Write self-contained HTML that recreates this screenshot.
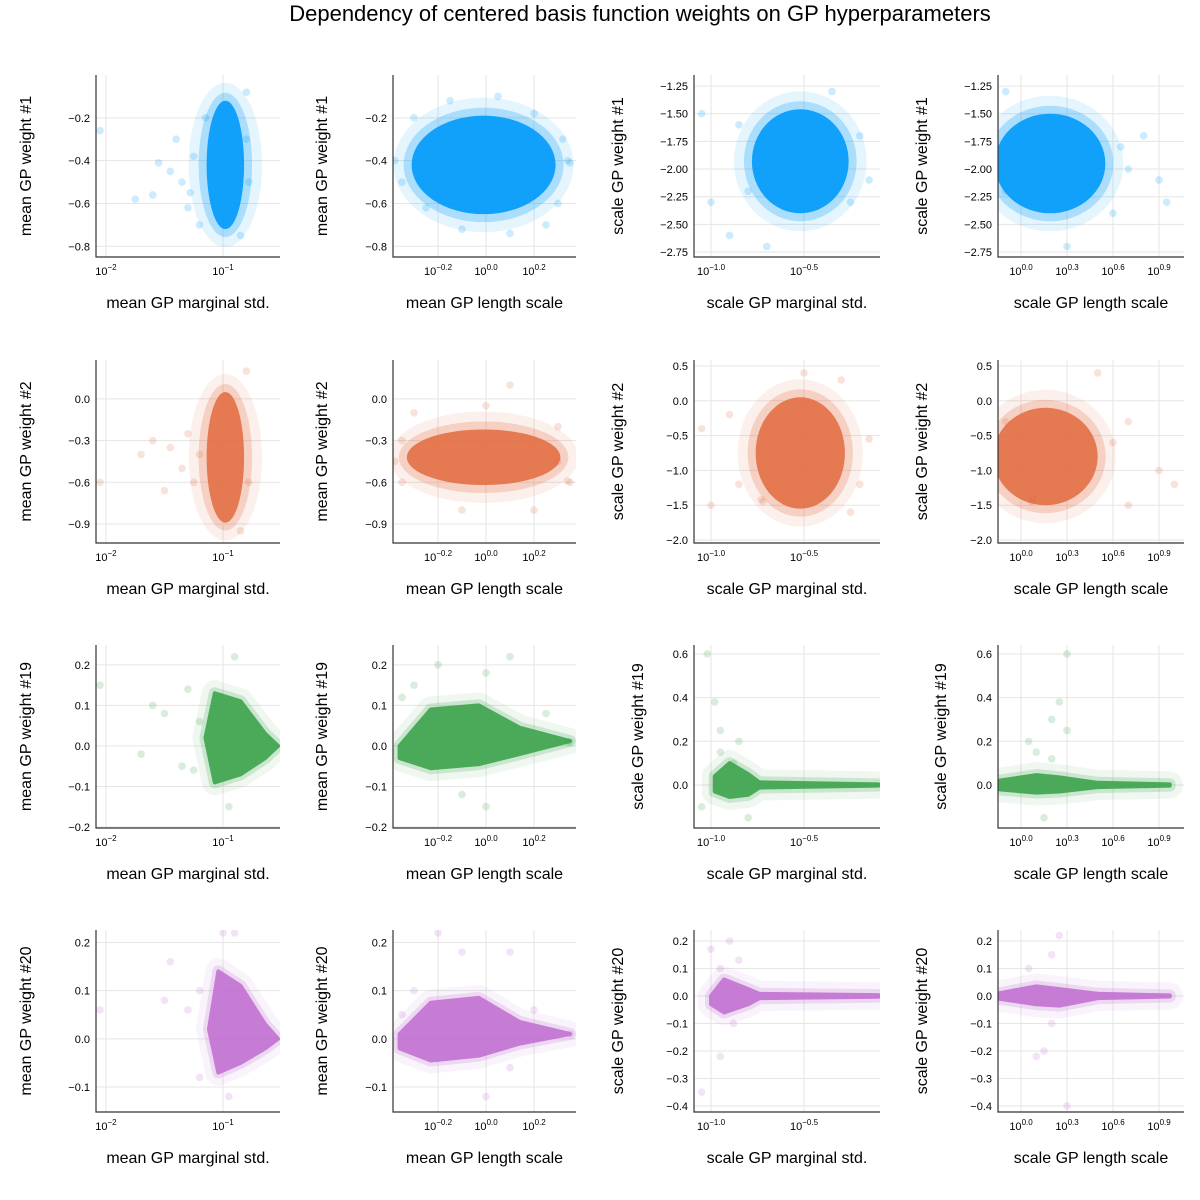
<!DOCTYPE html>
<html><head><meta charset="utf-8"><style>
html,body{margin:0;padding:0;background:#fff;}
svg{display:block;font-family:"Liberation Sans","DejaVu Sans",sans-serif;}
</style></head><body>
<svg id="chart" width="1200" height="1200" viewBox="0 0 1200 1200" xmlns="http://www.w3.org/2000/svg">
<rect width="1200" height="1200" fill="#fff"/>
<text x="640" y="21" text-anchor="middle" font-size="22" fill="#000">Dependency of centered basis function weights on GP hyperparameters</text>
</svg>
<script>
// ---- layout ----
const colLeft=[96,393,694,998], colRight=[280,576,880,1184];
const rowTop=[75,360,645,930], rowBottom=[257,543,828,1112];
const colors=["#009AFA","#E26F46","#3DA44D","#C271D2"];
const rowNames=["#1","#2","#19","#20"];
const colXLabels=["mean GP marginal std.","mean GP length scale","scale GP marginal std.","scale GP length scale"];
const colYPrefix=["mean","mean","scale","scale"];
// x domains (log10 units)
const xDomains=[[-2.085,-0.513],[-0.3875,0.375],[-1.0914,-0.0914],[-0.15,1.063]];
const xTickVals=[[-2,-1],[-0.2,0,0.2],[-1,-0.5],[0,0.3,0.6,0.9]];
const xTickText=[["−2","−1"],["−0.2","0.0","0.2"],["−1.0","−0.5"],["0.0","0.3","0.6","0.9"]];
// y domains: [row][pair] pair0 = cols 1-2, pair1 = cols 3-4
const yDomains=[[[-0.85,0.0],[-2.795,-1.15]],[[-1.037,0.28],[-2.043,0.586]],[[-0.2025,0.249],[-0.197,0.641]],[[-0.152,0.226],[-0.422,0.24]]];
const yTicks=[[[-0.8,-0.6,-0.4,-0.2],[-2.75,-2.5,-2.25,-2.0,-1.75,-1.5,-1.25]],[[-0.9,-0.6,-0.3,0.0],[-2.0,-1.5,-1.0,-0.5,0.0,0.5]],[[-0.2,-0.1,0.0,0.1,0.2],[0.0,0.2,0.4,0.6]],[[-0.1,0.0,0.1,0.2],[-0.4,-0.3,-0.2,-0.1,0.0,0.1,0.2]]];
const yTickDigits=[[1,2],[1,1],[1,1],[1,1]];
const yLabelX=[[25,321,617,921],[25,321,617,921],[25,321,637,940],[25,321,617,921]];

// ---- data: dense cloud shapes (x in log10, y in data units) ----
const coreShapes=[
 [{e:[-0.98,-0.42,0.16,0.3]},{e:[-0.01,-0.42,0.3,0.23]},{e:[-0.52,-1.93,0.26,0.47]},{e:[0.19,-1.95,0.36,0.45]}],
 [{e:[-0.98,-0.42,0.16,0.47]},{e:[-0.01,-0.42,0.32,0.2]},{e:[-0.52,-0.75,0.24,0.8]},{e:[0.16,-0.8,0.34,0.7]}],
 [{p:[[-1.15,0.02],[-1.07,0.13],[-0.85,0.11],[-0.64,0.03],[-0.53,0.0],[-0.64,-0.03],[-0.85,-0.07],[-1.07,-0.09]]},
  {p:[[-0.36,0.0],[-0.23,0.09],[-0.03,0.1],[0.14,0.045],[0.35,0.012],[0.14,-0.02],[-0.03,-0.045],[-0.23,-0.055],[-0.36,-0.03]]},
  {p:[[-0.98,0.04],[-0.9,0.1],[-0.8,0.05],[-0.74,0.012],[-0.1,0.003],[-0.1,-0.003],[-0.74,-0.012],[-0.8,-0.045],[-0.9,-0.055],[-0.98,-0.03]]},
  {p:[[-0.14,0.02],[0.1,0.045],[0.25,0.035],[0.5,0.01],[0.97,0.003],[0.97,-0.003],[0.5,-0.01],[0.25,-0.03],[0.1,-0.035],[-0.14,-0.02]]}],
 [{p:[[-1.12,0.02],[-1.04,0.14],[-0.85,0.11],[-0.64,0.03],[-0.53,0.0],[-0.64,-0.02],[-0.85,-0.05],[-1.04,-0.07]]},
  {p:[[-0.36,0.01],[-0.23,0.075],[-0.03,0.085],[0.14,0.035],[0.35,0.01],[0.14,-0.01],[-0.03,-0.035],[-0.23,-0.045],[-0.36,-0.02]]},
  {p:[[-1.0,0.0],[-0.93,0.06],[-0.8,0.025],[-0.74,0.008],[-0.1,0.003],[-0.1,-0.003],[-0.74,-0.008],[-0.8,-0.03],[-0.93,-0.06],[-1.0,-0.03]]},
  {p:[[-0.14,0.01],[0.1,0.035],[0.25,0.025],[0.5,0.008],[0.97,0.002],[0.97,-0.002],[0.5,-0.008],[0.25,-0.035],[0.1,-0.03],[-0.14,-0.01]]}]
];
// scattered outliers [x,y]
const outliers=[
 [[[-2.05,-0.26],[-1.55,-0.41],[-1.6,-0.56],[-1.35,-0.5],[-1.75,-0.58],[-1.3,-0.62],[-1.2,-0.7],[-1.4,-0.3],[-0.8,-0.08],[-0.85,-0.75],[-1.45,-0.45],[-1.25,-0.38],[-1.15,-0.2],[-1.28,-0.55],[-0.78,-0.5],[-0.8,-0.3]],
  [[-0.38,-0.4],[-0.3,-0.2],[0.3,-0.6],[0.2,-0.18],[-0.1,-0.72],[0.35,-0.41],[0.34,-0.4],[-0.25,-0.62],[0.25,-0.7],[-0.35,-0.5],[0.32,-0.3],[-0.15,-0.12],[0.05,-0.1],[0.1,-0.74]],
  [[-1.05,-1.5],[-1.0,-2.3],[-0.9,-2.6],[-0.2,-1.7],[-0.15,-2.1],[-0.35,-1.3],[-0.7,-2.7],[-0.85,-1.6],[-0.25,-2.3],[-0.8,-2.2]],
  [[-0.1,-1.3],[0.8,-1.7],[0.9,-2.1],[0.95,-2.3],[0.6,-2.4],[0.3,-2.7],[0.7,-2.0],[0.65,-1.8],[-0.1,-2.2]]],
 [[[-2.05,-0.6],[-1.6,-0.3],[-1.5,-0.66],[-1.35,-0.5],[-1.7,-0.4],[-1.3,-0.25],[-0.8,0.2],[-0.85,-0.95],[-1.2,-0.4],[-1.25,-0.6],[-1.45,-0.35],[-0.78,-0.6]],
  [[-0.38,-0.45],[0.35,-0.6],[0.34,-0.59],[0.3,-0.2],[0.2,-0.8],[-0.3,-0.1],[0.1,0.1],[-0.35,-0.3],[-0.35,-0.6],[0.3,-0.45],[-0.1,-0.8],[0.0,-0.05]],
  [[-1.05,-0.4],[-1.0,-1.5],[-0.15,-0.55],[-0.3,0.3],[-0.73,-1.42],[-0.72,-1.45],[-0.2,-1.2],[-0.9,-0.2],[-0.85,-1.2],[-0.25,-1.6],[-0.5,0.4]],
  [[0.08,-1.4],[0.07,-1.45],[0.7,-0.3],[0.9,-1.0],[1.0,-1.2],[0.5,0.4],[0.7,-1.5],[-0.1,-0.3],[0.6,-0.6]]],
 [[[-2.05,0.15],[-1.6,0.1],[-1.5,0.08],[-1.35,-0.05],[-1.7,-0.02],[-0.9,0.22],[-0.95,-0.15],[-1.3,0.14],[-1.2,0.06],[-1.25,-0.06]],
  [[-0.2,0.2],[0.0,-0.15],[0.1,0.22],[-0.35,0.12],[0.25,0.08],[0.35,0.01],[0.34,0.01],[-0.3,0.15],[0.0,0.18],[-0.1,-0.12]],
  [[-1.02,0.6],[-0.98,0.38],[-1.05,-0.1],[-0.95,0.25],[-0.85,0.2],[-0.95,0.15],[-0.8,-0.15],[-0.88,0.1]],
  [[0.1,0.15],[0.25,0.38],[0.2,0.3],[0.15,-0.15],[0.3,0.6],[0.05,0.2],[0.2,0.12],[0.3,0.25]]],
 [[[-2.05,0.06],[-1.45,0.16],[-1.3,0.06],[-1.2,-0.08],[-0.9,0.22],[-1.0,0.22],[-0.95,-0.12],[-1.5,0.08],[-1.2,0.1]],
  [[-0.2,0.22],[0.0,-0.12],[0.1,0.18],[-0.35,0.05],[0.2,0.06],[0.35,0.01],[-0.1,0.18],[-0.3,0.1],[0.1,-0.06]],
  [[-1.05,-0.35],[-1.0,0.17],[-0.9,0.2],[-0.95,-0.22],[-0.88,-0.1],[-0.85,0.13],[-0.95,0.1]],
  [[0.1,-0.22],[0.25,0.22],[0.2,0.15],[0.3,-0.4],[0.15,-0.2],[0.05,0.1],[0.2,-0.1]]]
];

const svg=document.getElementById('chart');
const NS="http://www.w3.org/2000/svg";
function mk(tag,attrs,parent){const el=document.createElementNS(NS,tag);for(const k in attrs)el.setAttribute(k,attrs[k]);(parent||svg).appendChild(el);return el;}
function fmt(v,d){const s=Math.abs(v).toFixed(d);return (v<0&&Math.abs(v)>1e-9?"−":"")+s;}

for(let r=0;r<4;r++){
 for(let c=0;c<4;c++){
  const L=colLeft[c],R=colRight[c],T=rowTop[r],B=rowBottom[r];
  const xd=xDomains[c], yd=yDomains[r][c<2?0:1];
  const xs=v=>L+(v-xd[0])/(xd[1]-xd[0])*(R-L);
  const ys=v=>B-(v-yd[0])/(yd[1]-yd[0])*(B-T);
  const g=mk('g',{});
  
  
  xTickVals[c].forEach((v,i)=>{
   const x=xs(v);
   const gl=mk('line',{x1:x,x2:x,y1:T,y2:B,stroke:'#e5e5e5','stroke-width':1},g);
   
   
   const t=mk('text',{x:x,y:B+18,'text-anchor':'middle','font-size':11,fill:'#000'},g);
   
   
   t.appendChild(document.createTextNode('10'));
   const sp=mk('tspan',{dy:-5,'font-size':8},t);sp.textContent=xTickText[c][i];
  });
  const yt=yTicks[r][c<2?0:1], dg=yTickDigits[r][c<2?0:1];
  yt.forEach(v=>{
   const y=ys(v);
   const gl=mk('line',{x1:L,x2:R,y1:y,y2:y,stroke:'#e5e5e5','stroke-width':1},g);
   
   
   const t=mk('text',{x:L-6,y:y+4,'text-anchor':'end','font-size':11,fill:'#000'},g);
   
   
   t.textContent=fmt(v,dg);
  });
  const cp=mk('clipPath',{id:'cp'+r+c},g);mk('rect',{x:L,y:T,width:R-L,height:B-T},cp);
  const dg2=mk('g',{'clip-path':'url(#cp'+r+c+')'},g);
  
  
  const col=colors[r];
  const sh=coreShapes[r][c];
  if(sh.e){
   const [cx,cy,rx,ry]=sh.e;
   const pxr=Math.abs(xs(cx+rx)-xs(cx)), pyr=Math.abs(ys(cy+ry)-ys(cy));
   const h2=mk('ellipse',{cx:xs(cx),cy:ys(cy),rx:pxr+18,ry:pyr+18,fill:col,opacity:0.1},dg2);
   
   
   const h=mk('ellipse',{cx:xs(cx),cy:ys(cy),rx:pxr+8,ry:pyr+8,fill:col,opacity:0.25},dg2);
   
   
   const e=mk('ellipse',{cx:xs(cx),cy:ys(cy),rx:pxr,ry:pyr,fill:col,opacity:0.9},dg2);
   
   
  } else {
   const pts=sh.p.map(p=>xs(p[0])+','+ys(p[1])).join(' ');
   const h2=mk('polygon',{points:pts,fill:col,stroke:col,'stroke-width':26,'stroke-linejoin':'round',opacity:0.08},dg2);
   
   
   const h=mk('polygon',{points:pts,fill:col,stroke:col,'stroke-width':12,'stroke-linejoin':'round',opacity:0.2},dg2);
   
   
   const p=mk('polygon',{points:pts,fill:col,stroke:col,'stroke-width':4,'stroke-linejoin':'round',opacity:0.9},dg2);
   
   
  }
  outliers[r][c].forEach(pt=>{
   const ci=mk('circle',{cx:xs(pt[0]),cy:ys(pt[1]),r:3.8,fill:col,opacity:0.2},dg2);
   
   
  });
  const ax=mk('path',{d:`M${L},${T}V${B}H${R}`,fill:'none',stroke:'#333','stroke-width':1.2},g);
  
  
  const xl=mk('text',{x:(L+R)/2,y:B+51,'text-anchor':'middle','font-size':16,fill:'#000'},g);
  
  
  xl.textContent=colXLabels[c];
  const lx=yLabelX[r][c];
  const yl=mk('text',{x:lx,y:(T+B)/2,'text-anchor':'middle','font-size':16,fill:'#000',transform:`rotate(-90 ${lx} ${(T+B)/2})`,dy:6},g);
  
  
  yl.textContent=colYPrefix[c]+' GP weight '+rowNames[r];
 }
}
</script>
</body></html>
